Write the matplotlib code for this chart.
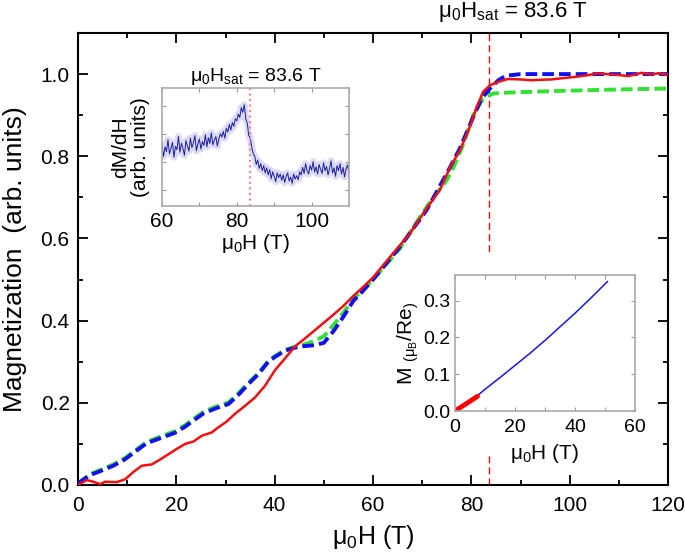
import numpy as np
import matplotlib
matplotlib.use("Agg")
import matplotlib.pyplot as plt
from matplotlib.patches import Rectangle
from matplotlib.ticker import MultipleLocator, NullFormatter

plt.rcParams['font.family'] = ['Liberation Sans', 'DejaVu Sans']
plt.rcParams['mathtext.fontset'] = 'custom'
plt.rcParams['mathtext.rm'] = 'Liberation Sans'
plt.rcParams['mathtext.it'] = 'Liberation Sans:italic'
plt.rcParams['mathtext.default'] = 'regular'

# saturation field
H_sat = 83.6

# main panel: normalised magnetization
H_red = [0, 1.8, 3.1, 4.5, 5.5, 7.9, 9.6, 11.3, 13.0, 15.0, 16.7, 18.4, 20.1, 21.8, 23.5,
         25.2, 27.2, 28.5, 30.2, 31.9, 33.9, 36.0, 38.0, 40.1, 42.1, 44.1, 46.2, 48, 50, 52,
         54, 56, 58, 60, 64.1, 67.5, 70.9, 73.6, 75.7, 77.7, 79.7, 81.1, 82.4, 83.8, 85.5,
         87.4, 90, 92.2, 94, 96.3, 98.5, 101, 103.5, 105.8, 107.5, 109.8, 111.9, 114.6,
         116.5, 118, 120]
M_red = [0.0, 0.012, 0.008, 0.002, 0.008, 0.007, 0.014, 0.032, 0.047, 0.050, 0.062, 0.075,
         0.088, 0.100, 0.106, 0.120, 0.128, 0.140, 0.154, 0.173, 0.192, 0.213, 0.241, 0.280,
         0.308, 0.337, 0.357, 0.375, 0.395, 0.415, 0.436, 0.460, 0.482, 0.505, 0.564, 0.612,
         0.673, 0.718, 0.774, 0.815, 0.872, 0.920, 0.957, 0.973, 0.981, 0.988, 0.987, 0.985,
         0.986, 0.987, 0.990, 0.993, 0.997, 1.002, 1.000, 0.998, 0.995, 1.003, 0.999, 1.002,
         0.998]

H_blue = [0, 2.4, 4.8, 7.2, 9.6, 11.6, 14.0, 17.0, 19.7, 21.8, 23.5, 25.5, 27.9, 30.6, 32.6,
          34.6, 36.7, 38.7, 40.1, 42.1, 44.1, 46, 48, 50, 52, 54, 56, 58, 60, 65.5, 70.9, 75,
          77.7, 80.4, 82.1, 83.8, 85.5, 87, 90, 100, 110, 120]
M_blue = [0.004, 0.024, 0.035, 0.047, 0.063, 0.081, 0.102, 0.115, 0.127, 0.142, 0.157, 0.174,
          0.186, 0.197, 0.219, 0.245, 0.270, 0.300, 0.312, 0.327, 0.334, 0.338, 0.340, 0.346,
          0.375, 0.410, 0.448, 0.473, 0.500, 0.580, 0.669, 0.758, 0.820, 0.896, 0.941, 0.965,
          0.985, 0.996, 1.0, 1.0, 1.0, 1.0]

H_green = [0, 2.4, 4.8, 7.2, 9.6, 11.6, 14.0, 17.0, 19.7, 21.8, 23.5, 25.5, 27.9, 30.6, 32.6,
           34.6, 36.7, 38.7, 40.1, 42.1, 44.1, 46, 48, 50, 52, 54, 56, 58, 60, 65.5, 69.6,
           72.3, 75, 76.4, 78.4, 80.4, 82.4, 84.5, 87.4, 97.6, 108, 120]
M_green = [0.004, 0.026, 0.038, 0.050, 0.066, 0.084, 0.105, 0.119, 0.131, 0.146, 0.161, 0.178,
           0.190, 0.201, 0.223, 0.248, 0.272, 0.302, 0.314, 0.329, 0.336, 0.342, 0.350, 0.362,
           0.390, 0.420, 0.452, 0.476, 0.500, 0.576, 0.653, 0.700, 0.742, 0.774, 0.830, 0.900,
           0.941, 0.953, 0.955, 0.959, 0.962, 0.965]

# upper inset: dM/dH (arb. units), sampled every 0.4 T from 60 to 110 T
dmdh = [1.62, 1.21, 1.55, 1.38, 1.80, 1.30, 1.49, 1.71, 1.18, 1.57,
        1.45, 1.92, 1.36, 1.68, 1.50, 1.25, 1.77, 1.58, 1.40, 1.86,
        1.52, 1.70, 1.95, 1.41, 1.66, 1.83, 1.47, 1.74, 1.60, 1.98,
        1.55, 1.88, 1.67, 2.05, 1.62, 1.79, 1.92, 1.58, 1.84, 2.02,
        1.90, 2.10, 1.86, 2.22, 2.08, 2.35, 2.15, 2.42, 2.28, 2.55,
        2.48, 2.72, 2.60, 2.95, 2.78, 3.05, 2.55, 2.40, 1.95, 1.88,
        1.55, 1.30, 1.22, 0.92, 1.08, 0.78, 0.95, 0.70, 0.88, 0.62,
        0.80, 0.55, 0.74, 0.42, 0.66, 0.50, 0.31, 0.62, 0.45, 0.58,
        0.36, 0.55, 0.28, 0.50, 0.62, 0.33, 0.47, 0.25, 0.58, 0.40,
        0.52, 0.38, 0.66, 0.55, 0.82, 0.60, 0.95, 0.70, 0.58, 0.88,
        0.72, 1.02, 0.65, 0.84, 0.58, 0.92, 0.75, 0.60, 0.98, 0.70,
        0.85, 0.55, 0.78, 1.05, 0.62, 0.80, 0.50, 0.88, 0.70, 0.95,
        0.58, 0.82, 0.48, 0.76, 0.90, 0.62]
H_dmdh = np.linspace(60, 110, len(dmdh))

# lower inset: M in mu_B/Re
H_low = [0, 7.5]
M_low = [0, 0.040]
H_calc = [7.5, 10, 15, 20, 25, 30, 35, 40, 45, 50.8]
M_calc = [0.042, 0.059, 0.091, 0.124, 0.157, 0.192, 0.229, 0.266, 0.305, 0.352]

fig = plt.figure(figsize=(6.85, 5.57), dpi=100)

# main axes
ax = fig.add_axes([78/685, 1 - 485/557, 590/685, 452/557])
ax.axvline(H_sat, color='red', lw=1, ls=(0, (5, 3)), zorder=1)
ax.plot(H_green, M_green, color='#33e033', lw=2.8, ls=(0, (3, 1.3)), zorder=2)
ax.plot(H_blue, M_blue, color='#1010f0', lw=2.8, ls=(0, (3, 1.3)), zorder=3)
ax.plot(H_red, M_red, color='#f01010', lw=1.8, zorder=4)
ax.set_xlim(0, 120)
ax.set_ylim(0, 1.1)
ax.xaxis.set_major_locator(MultipleLocator(20))
ax.xaxis.set_minor_locator(MultipleLocator(10))
ax.yaxis.set_major_locator(MultipleLocator(0.2))
ax.yaxis.set_minor_locator(MultipleLocator(0.1))
ax.yaxis.set_major_formatter(plt.FormatStrFormatter('%.1f'))
ax.tick_params(which='both', direction='in', top=True, right=True,
               width=1.3, labelsize=15)
ax.tick_params(which='major', length=7, pad=6)
ax.tick_params(which='minor', length=3.5)
ax.tick_params(axis='x', which='major', pad=8)
for s in ax.spines.values():
    s.set_linewidth(1.5)
ax.set_xlabel('μ$_0$H (T)', fontsize=18, labelpad=6)
ax.set_ylabel('Magnetization  (arb. units)', fontsize=19, labelpad=10)
ax.text(73.2, 1.15, 'μ$_0$H$_{sat}$ = 83.6 T', fontsize=16, ha='left', va='center',
        clip_on=False)

# white area behind the lower inset hides the dashed line
fig.add_artist(Rectangle((470/685, 1 - 454/557), 40/685, 201/557,
                         transform=fig.transFigure, facecolor='white',
                         edgecolor='none', zorder=1))

# upper inset
ax1 = fig.add_axes([162/685, 1 - 206/557, 187/685, 118/557])
ax1.set_zorder(2)
ax1.plot(H_dmdh, dmdh, color='#9a9ae0', lw=5, alpha=0.35)
ax1.plot(H_dmdh, dmdh, color='#1c1c9c', lw=0.7)
ax1.axvline(H_sat, color='#ff8080', ls=':', lw=1.5)
ax1.set_xlim(60, 110)
ax1.set_ylim(-0.56, 3.65)
ax1.xaxis.set_major_locator(MultipleLocator(20))
ax1.xaxis.set_minor_locator(MultipleLocator(10))
ax1.yaxis.set_major_locator(MultipleLocator(1))
ax1.yaxis.set_major_formatter(NullFormatter())
ax1.tick_params(which='both', direction='in', top=True, right=True,
                length=3, width=0.8, color='#999999', labelsize=15, pad=4)
for s in ax1.spines.values():
    s.set_color('#aaaaaa')
    s.set_linewidth(1.2)
ax1.set_xlabel('μ$_0$H (T)', fontsize=15, labelpad=1)
ax1.set_ylabel('dM/dH\n(arb. units)', fontsize=15, labelpad=5, linespacing=1.0)
ax1.set_title('μ$_0$H$_{sat}$ = 83.6 T', fontsize=14, pad=5)

# lower inset
ax2 = fig.add_axes([455/685, 1 - 411/557, 180/685, 136/557])
ax2.set_zorder(2)
ax2.plot(H_calc, M_calc, color='#1515f0', lw=1.1)
ax2.plot(H_low, M_low, color='red', lw=3.5, solid_capstyle='round')
ax2.set_xlim(0, 60)
ax2.set_ylim(0, 0.37)
ax2.xaxis.set_major_locator(MultipleLocator(20))
ax2.xaxis.set_minor_locator(MultipleLocator(10))
ax2.yaxis.set_major_locator(MultipleLocator(0.1))
ax2.yaxis.set_major_formatter(plt.FormatStrFormatter('%.1f'))
ax2.tick_params(which='both', direction='in', top=True, right=True,
                length=3, width=0.8, color='#999999', labelsize=14)
ax2.tick_params(axis='x', pad=6)
ax2.tick_params(axis='y', pad=3)
for s in ax2.spines.values():
    s.set_color('#aaaaaa')
    s.set_linewidth(1.2)
ax2.set_xlabel('μ$_0$H (T)', fontsize=15, labelpad=4)
ax2.set_ylabel('M $_{(μ_B}$/Re$_)$', fontsize=15, labelpad=2)

fig.savefig('out.png', dpi=100)
